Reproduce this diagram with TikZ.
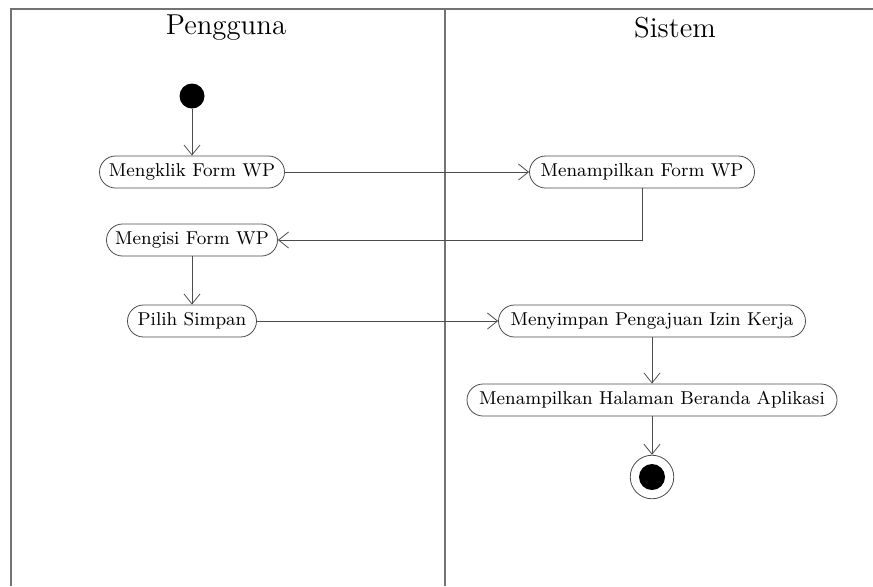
\documentclass[tikz,border=0pt]{standalone}
\usetikzlibrary{arrows.meta,positioning,shapes}

\begin{document}
\begin{tikzpicture}[x=0.5pt,y=-0.5pt,
	act/.style={draw=black!70, rounded corners=8pt, minimum height=16pt, inner xsep=4pt, font=\fontsize{9.3}{11}\selectfont, fill=white},
	flow/.style={draw=black!70, -{Straight Barb[length=5pt,width=8pt]}},
	lane/.style={draw=black!55, line width=1pt}]
	\useasboundingbox (0,0) rectangle (873,586);
	
	% swimlanes
	\draw[lane] (11,586) -- (11,9) -- (873,9);
	\draw[lane] (445,9) -- (445,586);
	\node[font=\Large] (pengguna) at (226,28) {Pengguna};
	\node[font=\Large] (sistem) at (675,28) {Sistem};
	
	% pengguna
	\node[circle, fill=black, inner sep=0pt, minimum size=12.5pt] (start) at (192,96) {};
	\node[act, minimum width=92.5pt] (klik) at (192,172) {Mengklik Form WP};
	\node[act, minimum width=85.5pt] (isi) at (192,240) {Mengisi Form WP};
	\node[act, minimum width=64.5pt] (pilih) at (192,321) {Pilih Simpan};
	
	% sistem
	\node[act, minimum width=112.5pt] (tampil) at (642,172) {Menampilkan Form WP};
	\node[act, minimum width=153.5pt] (simpan) at (652,321) {Menyimpan Pengajuan Izin Kerja};
	\node[act, minimum width=185pt] (beranda) at (652,400) {Menampilkan Halaman Beranda Aplikasi};
	\node[circle, draw=black!70, inner sep=1.2pt] (end) at (652,477) {\tikz\fill (0,0) circle (6.5pt);};
	
	\draw[flow] (start) -- (klik);
	\draw[flow] (klik) -- (tampil);
	\draw[flow] (tampil.south) |- (isi.east);
	\draw[flow] (isi) -- (pilih);
	\draw[flow] (pilih) -- (simpan);
	\draw[flow] (simpan) -- (beranda);
	\draw[flow] (beranda) -- (end);
\end{tikzpicture}
\end{document}
